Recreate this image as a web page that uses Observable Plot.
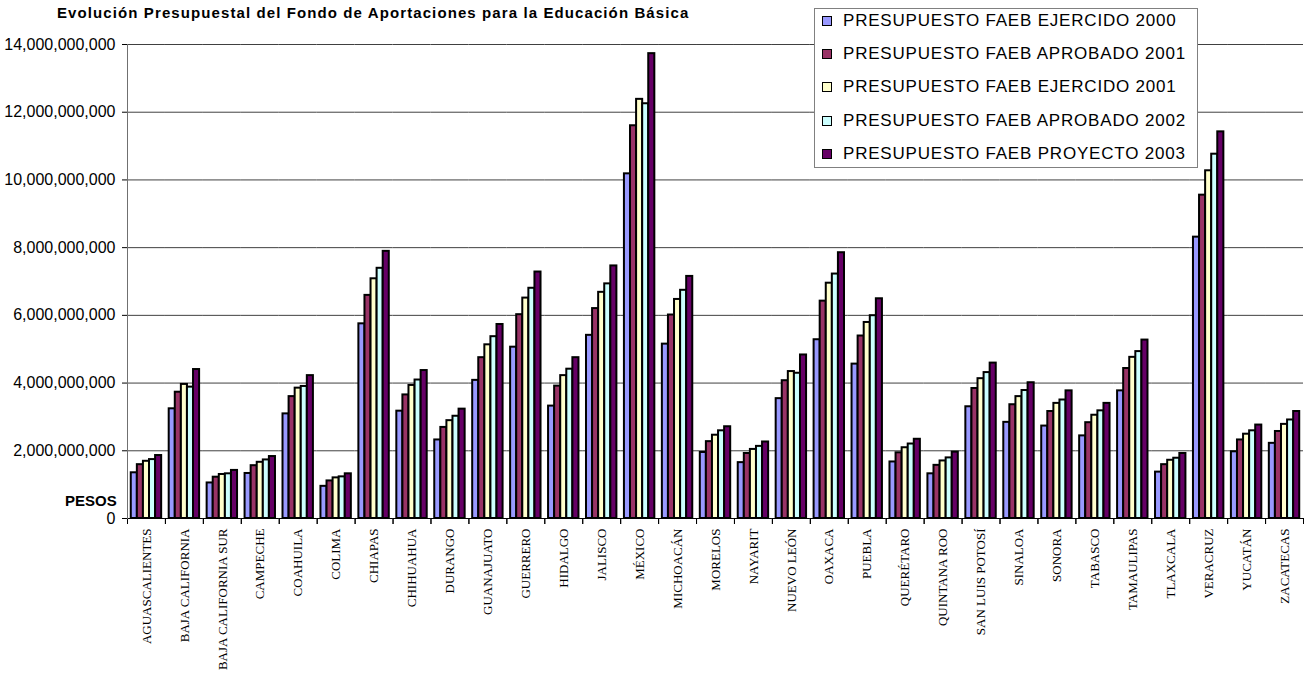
<!DOCTYPE html>
<html><head><meta charset="utf-8">
<script src="https://cdn.jsdelivr.net/npm/d3@7"></script>
<script src="https://cdn.jsdelivr.net/npm/@observablehq/plot@0.6"></script>
<style>
body{margin:0;background:#fff;}
#wrap{position:relative;width:1311px;height:674px;overflow:hidden;font-family:"Liberation Sans",Arial,sans-serif;}
#title{position:absolute;left:57px;top:4px;font-weight:bold;font-size:15px;letter-spacing:1.1px;color:#000;white-space:nowrap;}
#ylab{position:absolute;left:65px;top:494px;font-weight:bold;font-size:15px;line-height:14px;color:#000;}
#legend{position:absolute;left:814px;top:8px;width:384px;height:160px;border:1px solid #808080;background:#fff;box-sizing:border-box;}
.row{position:absolute;left:7px;height:20px;display:flex;align-items:center;font-size:17px;letter-spacing:0.8px;white-space:nowrap;}
.sw{width:8px;height:8px;border:1.5px solid #000;margin-right:11px;}
</style></head><body><div id="wrap"></div>
<script>
const title = "Evolución Presupuestal del Fondo de Aportaciones para la Educación Básica";
const yLabel = "PESOS";
const states = ["AGUASCALIENTES","BAJA CALIFORNIA","BAJA CALIFORNIA SUR","CAMPECHE","COAHUILA","COLIMA","CHIAPAS","CHIHUAHUA","DURANGO","GUANAJUATO","GUERRERO","HIDALGO","JALISCO","MÉXICO","MICHOACÁN","MORELOS","NAYARIT","NUEVO LEÓN","OAXACA","PUEBLA","QUERÉTARO","QUINTANA ROO","SAN LUIS POTOSÍ","SINALOA","SONORA","TABASCO","TAMAULIPAS","TLAXCALA","VERACRUZ","YUCATÁN","ZACATECAS"];
const seriesNames = ["PRESUPUESTO FAEB EJERCIDO 2000","PRESUPUESTO FAEB APROBADO 2001","PRESUPUESTO FAEB EJERCIDO 2001","PRESUPUESTO FAEB APROBADO 2002","PRESUPUESTO FAEB PROYECTO 2003"];
const colors = ["#9999FF","#993366","#FFFFCC","#CCFFFF","#660066"];
const ejercido2000 = [1.35e9,3.24e9,1.05e9,1.33e9,3.09e9,0.95e9,5.75e9,3.17e9,2.32e9,4.08e9,5.06e9,3.32e9,5.41e9,10.18e9,5.15e9,1.95e9,1.65e9,3.54e9,5.28e9,4.56e9,1.67e9,1.32e9,3.30e9,2.84e9,2.73e9,2.44e9,3.77e9,1.37e9,8.31e9,1.97e9,2.22e9];
const aprobado2001 = [1.59e9,3.73e9,1.22e9,1.56e9,3.60e9,1.11e9,6.59e9,3.65e9,2.69e9,4.75e9,6.02e9,3.91e9,6.20e9,11.60e9,6.01e9,2.27e9,1.92e9,4.07e9,6.42e9,5.39e9,1.94e9,1.57e9,3.84e9,3.36e9,3.16e9,2.83e9,4.43e9,1.59e9,9.55e9,2.32e9,2.57e9];
const ejercido2001 = [1.69e9,3.96e9,1.30e9,1.66e9,3.85e9,1.20e9,7.08e9,3.93e9,2.89e9,5.13e9,6.51e9,4.22e9,6.68e9,12.38e9,6.47e9,2.46e9,2.04e9,4.34e9,6.95e9,5.79e9,2.09e9,1.70e9,4.13e9,3.60e9,3.40e9,3.05e9,4.76e9,1.72e9,10.27e9,2.49e9,2.78e9];
const aprobado2002 = [1.74e9,3.88e9,1.32e9,1.73e9,3.90e9,1.23e9,7.39e9,4.09e9,3.02e9,5.37e9,6.80e9,4.41e9,6.93e9,12.25e9,6.74e9,2.59e9,2.13e9,4.29e9,7.22e9,5.99e9,2.20e9,1.79e9,4.31e9,3.78e9,3.50e9,3.18e9,4.93e9,1.78e9,10.76e9,2.59e9,2.91e9];
const proyecto2003 = [1.86e9,4.40e9,1.42e9,1.83e9,4.22e9,1.32e9,7.89e9,4.37e9,3.23e9,5.73e9,7.28e9,4.75e9,7.46e9,13.73e9,7.15e9,2.71e9,2.26e9,4.83e9,7.85e9,6.49e9,2.34e9,1.96e9,4.59e9,4.01e9,3.77e9,3.40e9,5.27e9,1.92e9,11.42e9,2.76e9,3.16e9];
const yTicks = [0,2e9,4e9,6e9,8e9,10e9,12e9,14e9];

const seriesValues = [ejercido2000, aprobado2001, ejercido2001, aprobado2002, proyecto2003];
const data = [];
states.forEach((s, i) => seriesValues.forEach((arr, j) => data.push({state: s, series: seriesNames[j], value: arr[i]})));

const H = 674, MT = 44, MB = 156;
const chart = Plot.plot({
  width: 1311, height: H,
  marginTop: MT, marginBottom: MB, marginLeft: 127, marginRight: 8,
  style: {fontFamily: "'Liberation Sans', Arial, sans-serif", background: "white", overflow: "visible", color: "#000"},
  fx: {domain: states, padding: 0, round: false, label: null},
  x: {domain: seriesNames, paddingInner: 0, paddingOuter: 0.62, round: false, axis: null},
  y: {domain: [0, 14e9], label: null},
  color: {domain: seriesNames, range: colors},
  marks: [
    Plot.gridY(yTicks.slice(1), {stroke: "#404040", strokeOpacity: 1}),
    Plot.barY(data, {fx: "state", x: "series", y: "value", fill: "series", stroke: "#000", strokeWidth: 2}),
    Plot.ruleY([0], {stroke: "#000"}),
    Plot.frame({anchor: "left", insetTop: H - MT - MB, insetBottom: -5, stroke: "#000"}),
    Plot.frame({anchor: "right", insetTop: H - MT - MB, insetBottom: -5, stroke: "#000"}),
    Plot.frame({anchor: "left", facetAnchor: "left", stroke: "#707070"}),
    Plot.axisY({ticks: yTicks, tickFormat: d3.format(","), tickSize: 5, tickPadding: 7, fontSize: 16, label: null}),
    Plot.axisFx({anchor: "bottom", tickRotate: -90, tickSize: 0, tickPadding: 10, fontSize: 13, fontFamily: "'Liberation Serif', 'Times New Roman', serif", label: null})
  ]
});

const wrap = d3.select("#wrap");
wrap.node().appendChild(chart);
wrap.append("div").attr("id", "title").text(title);
wrap.append("div").attr("id", "ylab").text(yLabel);
const lg = wrap.append("div").attr("id", "legend");
seriesNames.forEach((s, i) => {
  const r = lg.append("div").attr("class", "row").style("top", (2 + i * 33.2) + "px");
  r.append("div").attr("class", "sw").style("background", colors[i]);
  r.append("span").text(s);
});
</script></body></html>
